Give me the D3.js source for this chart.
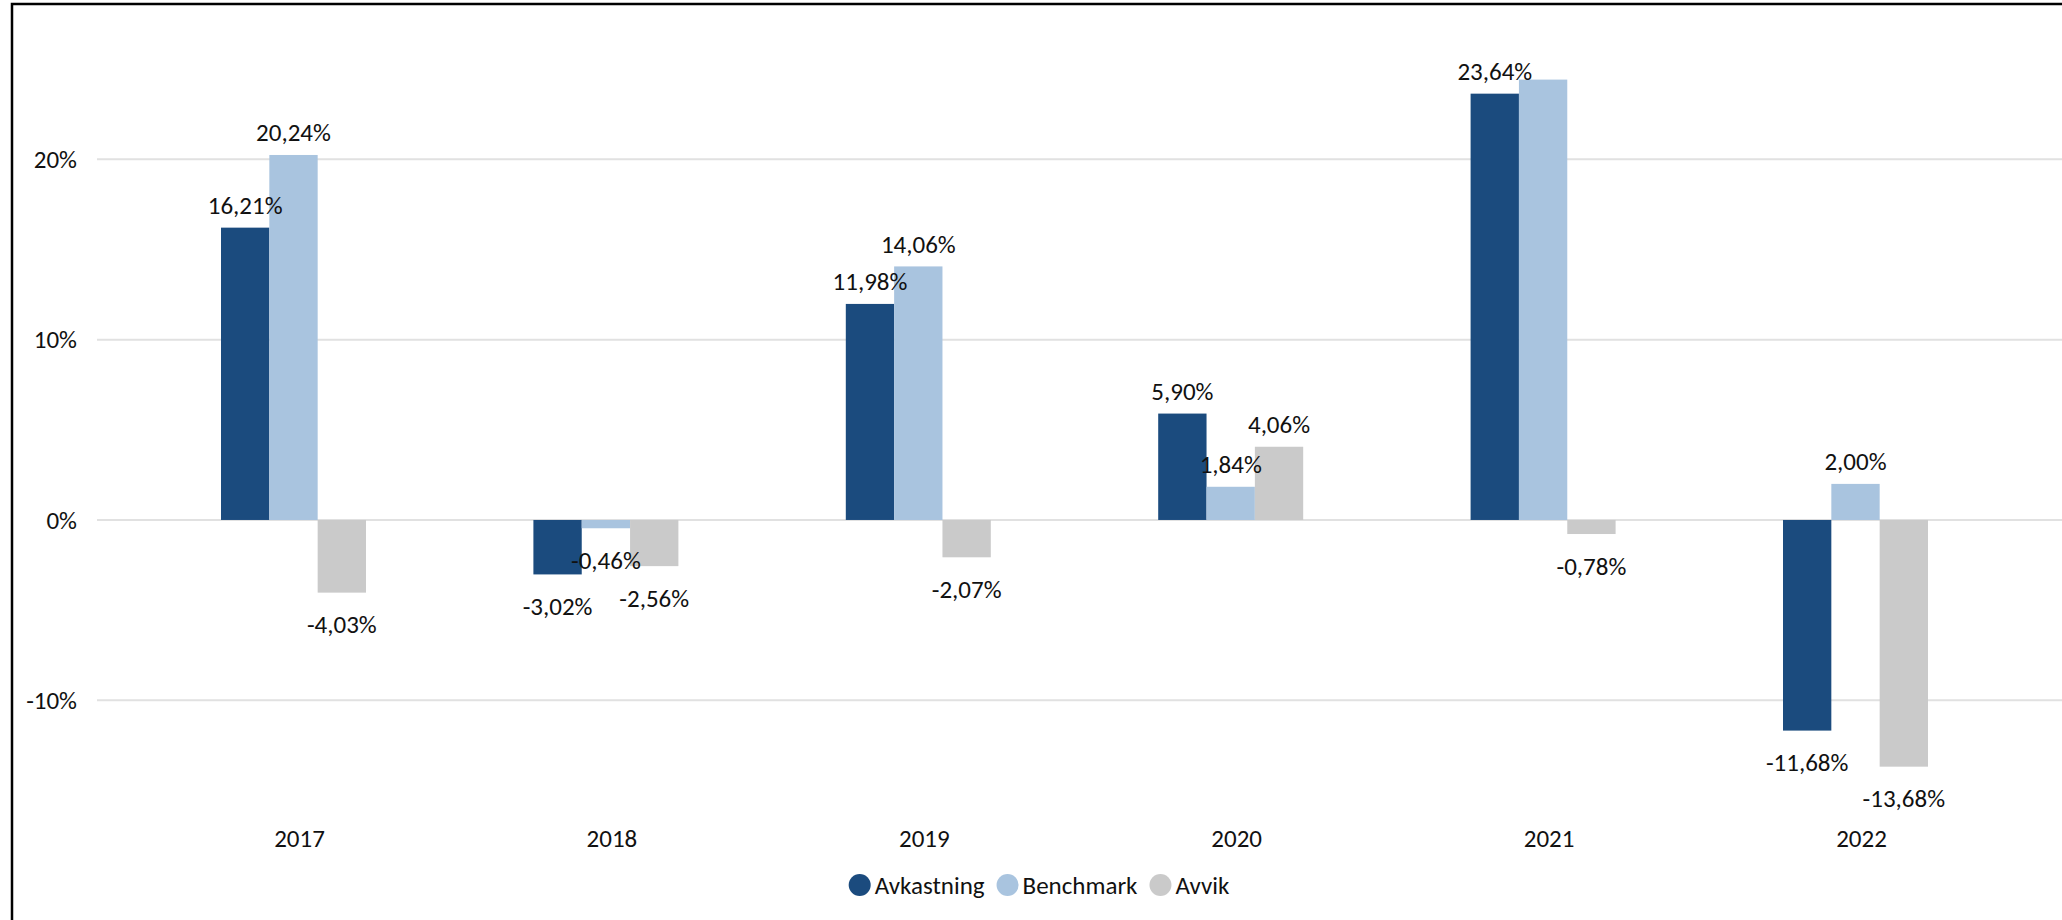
<!DOCTYPE html>
<html>
<head>
<meta charset="utf-8">
<script src="https://cdn.jsdelivr.net/npm/d3@7"></script>
<style>
  body { margin: 0; background: #fff; }
  svg text { font-family: Calibri, Carlito, "Open Sans", sans-serif; fill: #111; }
</style>
</head>
<body>
<div id="chart"></div>
<script>
// Data
const years = ["2017", "2018", "2019", "2020", "2021", "2022"];
const avkastning = [16.21, -3.02, 11.98, 5.90, 23.64, -11.68];
const benchmark = [20.24, -0.46, 14.06, 1.84, 24.42, 2.00];
const avvik = [-4.03, -2.56, -2.07, 4.06, -0.78, -13.68];
const seriesNames = ["Avkastning", "Benchmark", "Avvik"];
const seriesColors = ["#1B4B7E", "#A9C4DF", "#CACACA"];
const yTicks = [-10, 0, 10, 20];
// the benchmark label for 2021 is not shown in the original
const hiddenLabels = ["Benchmark:2021"];

const svgWidth = 2062, svgHeight = 920;
const fontSize = "25px";

const series = [avkastning, benchmark, avvik];
const data = years.map((year, i) => ({
    year: year,
    values: seriesNames.map((name, s) => ({ name: name, year: year, value: series[s][i] }))
}));

const svg = d3.select("#chart")
    .append("svg")
    .attr("width", svgWidth)
    .attr("height", svgHeight);

// outer frame (runs off the right and bottom edge)
svg.append("rect")
    .attr("x", 12)
    .attr("y", 4)
    .attr("width", svgWidth)
    .attr("height", svgHeight)
    .attr("fill", "none")
    .attr("stroke", "#000")
    .attr("stroke-width", 2.5);

const x0 = d3.scaleBand()
    .domain(years)
    .range([143.3, 143.3 + 6 * 312.4])
    .padding(0);

const x1 = d3.scaleBand()
    .domain(seriesNames)
    .range([0, 145])
    .padding(0);

const y = d3.scaleLinear()
    .domain([-10, 20])
    .range([700.3, 159.3]);

const color = d3.scaleOrdinal()
    .domain(seriesNames)
    .range(seriesColors);

// gridlines
svg.append("g")
    .selectAll("line")
    .data(yTicks)
    .enter().append("line")
    .attr("x1", 97)
    .attr("x2", svgWidth)
    .attr("y1", d => y(d))
    .attr("y2", d => y(d))
    .attr("stroke", "#E1E1E1")
    .attr("stroke-width", 2);

// y labels
svg.append("g")
    .selectAll("text")
    .data(yTicks)
    .enter().append("text")
    .attr("x", 77)
    .attr("y", d => y(d))
    .attr("dy", "0.35em")
    .attr("text-anchor", "end")
    .style("font-size", fontSize)
    .text(d => d + "%");

// x labels via axis
const xAxis = svg.append("g")
    .attr("transform", `translate(0, 838)`)
    .call(d3.axisBottom(x0).tickSize(0).tickPadding(0));
xAxis.select(".domain").remove();
xAxis.selectAll("text")
    .attr("y", 0)
    .attr("dy", "0.35em")
    .style("font-size", fontSize)
    .style("font-family", null);

// bar groups are shifted a little left of the category centre
const groupOffset = d => x0(d.year) + x0.bandwidth() / 2 - x1.range()[1] / 2 - 6;

const groups = svg.append("g")
    .selectAll("g")
    .data(data)
    .enter().append("g")
    .attr("transform", d => `translate(${groupOffset(d)},0)`);

groups.selectAll("rect")
    .data(d => d.values)
    .enter().append("rect")
    .attr("x", d => x1(d.name))
    .attr("y", d => y(Math.max(0, d.value)))
    .attr("width", x1.bandwidth())
    .attr("height", d => Math.abs(y(d.value) - y(0)))
    .attr("fill", d => color(d.name));

// Norwegian style: decimal comma and plain hyphen for minus
const fmt = v => d3.format(".2f")(v).replace("−", "-").replace(".", ",") + "%";

groups.selectAll("text")
    .data(d => d.values.filter(v => !hiddenLabels.includes(v.name + ":" + v.year)))
    .enter().append("text")
    .attr("x", d => x1(d.name) + x1.bandwidth() / 2)
    .attr("y", d => d.value >= 0 ? y(d.value) - 22.5 : y(d.value) + 32)
    .attr("dy", "0.35em")
    .attr("text-anchor", "middle")
    .style("font-size", fontSize)
    .text(d => fmt(d.value));

// legend
const legend = svg.append("g").attr("class", "legend");
let lx = 0;
seriesNames.forEach((name, i) => {
    const item = legend.append("g").attr("transform", `translate(${lx},0)`);
    item.append("circle")
        .attr("cx", 11)
        .attr("cy", 0)
        .attr("r", 11)
        .attr("fill", color(name));
    const t = item.append("text")
        .attr("x", 26)
        .attr("y", 0)
        .attr("dy", "0.35em")
        .style("font-size", fontSize)
        .text(name);
    lx += 26 + t.node().getComputedTextLength() + 12;
});
const legendWidth = lx - 12;
legend.attr("transform", `translate(${1039 - legendWidth / 2}, 885)`);
</script>
</body>
</html>
